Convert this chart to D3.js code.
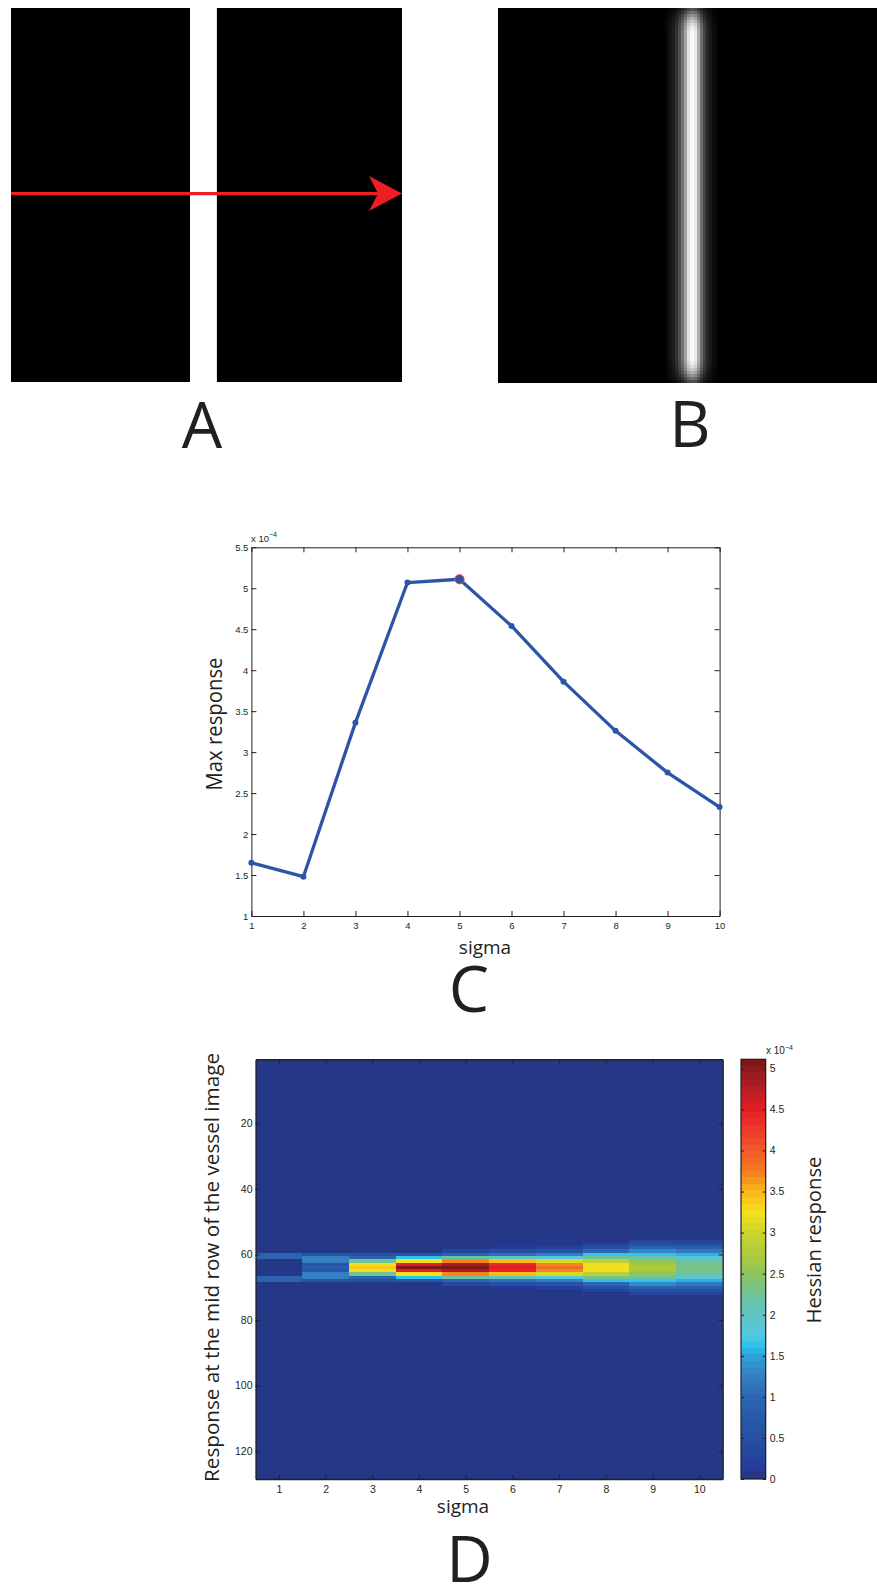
<!DOCTYPE html>
<html>
<head>
<meta charset="utf-8">
<script src="https://cdnjs.cloudflare.com/ajax/libs/d3/7.8.5/d3.min.js"></script>
<style>
body { margin: 0; background: #fff; }
svg { display: block; }
.tick text { font-family: "Liberation Sans", Arial, sans-serif; fill: #231f20; }
.tick line, .domain { stroke: #231f20; }
.lbl { font-family: "Open Sans", sans-serif; fill: #231f20; }
</style>
</head>
<body>
<div id="fig"></div>
<script>
// ---- panel A / B : the test image (128 x 128) ----
var imgSize = 128;
var vesselCols = [58.6, 67.4];          // white bar, image columns
var midRow = 63.5;                      // row the red arrow walks along
var glowCols = [55,56,57,58,59,60,61,62,63,64,65,66,67,68,69,70,71];
var glowLevels = [0.04,0.08,0.12,0.2,0.32,0.46,0.66,0.9,1.0,0.94,0.7,0.44,0.27,0.16,0.1,0.05,0.03];
var edgeFade = [0.32,0.45,0.58,0.7,0.8,0.88,0.94,0.98];   // first rows at top / bottom

// ---- panel C : max response per sigma (x 1e-4) ----
var sigmas = [1,2,3,4,5,6,7,8,9,10];
var maxResponse = [1.65,1.48,3.36,5.07,5.11,4.54,3.86,3.26,2.75,2.33];
var peakIndex = 4;
var cYTicks = [1,1.5,2,2.5,3,3.5,4,4.5,5,5.5];

// ---- panel D : response along the mid row, rows 56..72 (rest is 0) ----
var bandRows = [56,57,58,59,60,61,62,63,64,65,66,67,68,69,70,71,72];
var heatBand = [
  [0,0,0,0,0.95,0.95,0,0,0,0,0,0.95,0.95,0,0,0,0],
  [0,0,0,0,0.6,1.25,1.25,0.7,0.85,0.7,1.25,1.25,0.6,0,0,0,0],
  [0,0,0,0,0.5,0.9,2.25,3.2,3.36,3.2,2.25,0.9,0.5,0,0,0,0],
  [0,0,0,0,0.7,1.6,3.25,4.5,5.07,4.5,3.25,1.6,0.7,0,0,0,0],
  [0,0,0,0.35,0.95,2.2,3.7,4.8,5.11,4.8,3.7,2.2,0.95,0.35,0,0,0],
  [0,0,0.15,0.55,1.1,2.0,3.45,4.4,4.54,4.4,3.45,2.0,1.1,0.55,0.15,0,0],
  [0,0,0.2,0.6,1.2,1.8,3.1,3.75,3.86,3.75,3.1,1.8,1.2,0.6,0.2,0,0],
  [0,0.25,0.5,1.0,1.6,2.3,2.8,3.2,3.26,3.2,2.8,2.3,1.6,1.0,0.5,0.25,0],
  [0.25,0.5,0.9,1.3,1.6,2.2,2.5,2.7,2.75,2.7,2.5,2.2,1.6,1.3,0.9,0.5,0.25],
  [0.3,0.55,0.85,1.15,1.55,1.9,2.2,2.3,2.33,2.3,2.2,1.9,1.55,1.15,0.85,0.55,0.3]
];
var dYTicks = [20,40,60,80,100,120];
var cbTicks = [0,0.5,1,1.5,2,2.5,3,3.5,4,4.5,5];
var cbMax = 5.11;
var nLevels = 64;

// jet-like colour map as printed
var cmapVals = [0,0.1,0.25,0.5,0.75,1.0,1.25,1.5,1.6,1.75,2.0,2.25,2.5,2.75,3.0,3.25,3.5,3.75,4.0,4.25,4.5,4.75,5.0,5.11];
var cmapColors = ["#25367a","#24399a","#23449c","#2450a2","#265aa8","#2c68b2","#3480c2","#2aa2da","#27c0ef","#55c8e0",
  "#5fc5c3","#6ec39a","#8dc45a","#b1cb3a","#ccd52b","#f3e11c","#fbb51a","#f47b20","#f05a28","#ee3a2b",
  "#e41e25","#b31f24","#8e1a1c","#7a1315"];

var W = 877, H = 1584;
var ink = "#231f20";

var svg = d3.select("#fig").append("svg")
  .attr("width", W).attr("height", H)
  .style("background", "#fff");

// ================= A =================
var aX = d3.scaleLinear().domain([0, imgSize]).range([11, 402]);
var aY = d3.scaleLinear().domain([0, imgSize]).range([8, 382]);

var gA = svg.append("g");
gA.append("rect")
  .attr("x", aX(0)).attr("y", aY(0))
  .attr("width", aX(imgSize) - aX(0)).attr("height", aY(imgSize) - aY(0))
  .attr("fill", "#000");
gA.append("rect")
  .attr("x", aX(vesselCols[0])).attr("y", aY(0))
  .attr("width", aX(vesselCols[1]) - aX(vesselCols[0])).attr("height", aY(imgSize) - aY(0))
  .attr("fill", "#fff");
// red arrow along the mid row
var ay = aY(midRow), tipX = aX(imgSize);
gA.append("line")
  .attr("x1", aX(0)).attr("x2", tipX - 20)
  .attr("y1", ay).attr("y2", ay)
  .attr("stroke", "#ed1f24").attr("stroke-width", 3.3);
gA.append("path")
  .attr("d", "M" + tipX + "," + ay + "L" + (tipX - 33) + "," + (ay - 17.5) +
    "L" + (tipX - 24) + "," + ay + "L" + (tipX - 33) + "," + (ay + 17.5) + "Z")
  .attr("fill", "#ed1f24");
gA.append("text").attr("class", "lbl")
  .attr("x", 202).attr("y", 448)
  .attr("text-anchor", "middle").style("font-size", "64px")
  .text("A");

// ================= B =================
var bX = d3.scaleLinear().domain([0, imgSize]).range([498, 889]);
var bY = d3.scaleLinear().domain([0, imgSize]).range([8, 383]);
var gB = svg.append("g").attr("shape-rendering", "crispEdges");
gB.append("rect")
  .attr("x", bX(0)).attr("y", bY(0))
  .attr("width", bX(imgSize) - bX(0)).attr("height", bY(imgSize) - bY(0))
  .attr("fill", "#000");

// faded rows at the top and bottom, one long rect for the body of each column
var glowCells = [];
var nf = edgeFade.length;
glowCols.forEach(function (c, i) {
  edgeFade.forEach(function (f, r) {
    glowCells.push({ c: c, r0: r, r1: r + 1, v: glowLevels[i] * f });
    glowCells.push({ c: c, r0: imgSize - 1 - r, r1: imgSize - r, v: glowLevels[i] * f });
  });
  glowCells.push({ c: c, r0: nf, r1: imgSize - nf, v: glowLevels[i] });
});
gB.selectAll("rect.g").data(glowCells).enter().append("rect")
  .attr("class", "g")
  .attr("x", function (d) { return bX(d.c); })
  .attr("y", function (d) { return bY(d.r0); })
  .attr("width", bX(1) - bX(0))
  .attr("height", function (d) { return bY(d.r1) - bY(d.r0); })
  .attr("fill", function (d) { var g = Math.round(d.v * 250); return d3.rgb(g, g, g); });
svg.append("text").attr("class", "lbl")
  .attr("x", 690).attr("y", 447)
  .attr("text-anchor", "middle").style("font-size", "64px")
  .text("B");

// ================= C =================
var cX = d3.scaleLinear().domain([1, 10]).range([251.4, 719.6]);
var cY = d3.scaleLinear().domain([1, 5.5]).range([916, 547.3]);
var gC = svg.append("g");
var fmt = function (d) { return String(d); };

gC.append("g").attr("transform", "translate(0,916)")
  .call(d3.axisBottom(cX).tickValues(sigmas).tickSize(-5).tickSizeOuter(0).tickPadding(6).tickFormat(fmt))
  .selectAll("text").style("font-size", "9.5px");
gC.append("g").attr("transform", "translate(0,547.3)")
  .call(d3.axisTop(cX).tickValues(sigmas).tickSize(-5).tickSizeOuter(0).tickFormat(""));
gC.append("g").attr("transform", "translate(251.4,0)")
  .call(d3.axisLeft(cY).tickValues(cYTicks).tickSize(-5).tickSizeOuter(0).tickPadding(3).tickFormat(fmt))
  .selectAll("text").style("font-size", "9.5px");
gC.append("g").attr("transform", "translate(719.6,0)")
  .call(d3.axisRight(cY).tickValues(cYTicks).tickSize(-5).tickSizeOuter(0).tickFormat(""));

var line = d3.line()
  .x(function (d, i) { return cX(sigmas[i]); })
  .y(function (d) { return cY(d); });
gC.append("path").datum(maxResponse)
  .attr("d", line)
  .attr("fill", "none").attr("stroke", "#2c56a5")
  .attr("stroke-width", 3.3).attr("stroke-linejoin", "round");
gC.selectAll("circle.pt").data(maxResponse).enter().append("circle")
  .attr("class", "pt")
  .attr("cx", function (d, i) { return cX(sigmas[i]); })
  .attr("cy", function (d) { return cY(d); })
  .attr("r", 3).attr("fill", "#2c56a5");
gC.append("circle")
  .attr("cx", cX(sigmas[peakIndex])).attr("cy", cY(maxResponse[peakIndex]))
  .attr("r", 4.6).attr("fill", "#2c56a5")
  .attr("stroke", "#ef4136").attr("stroke-width", 1);

var cExp = gC.append("text").attr("x", 251).attr("y", 541.5)
  .style("font-family", "'Liberation Sans', Arial, sans-serif").style("font-size", "9.5px").attr("fill", ink);
cExp.append("tspan").text("x 10");
cExp.append("tspan").attr("dy", -4.5).style("font-size", "7px").text("\u22124");

gC.append("text").attr("class", "lbl")
  .attr("transform", "translate(222,724) rotate(-90)")
  .attr("text-anchor", "middle").style("font-size", "21px")
  .attr("textLength", 133).attr("lengthAdjust", "spacingAndGlyphs")
  .text("Max response");
gC.append("text").attr("class", "lbl")
  .attr("x", 485).attr("y", 954)
  .attr("text-anchor", "middle").style("font-size", "19px")
  .text("sigma");
gC.append("text").attr("class", "lbl")
  .attr("x", 469).attr("y", 1012)
  .attr("text-anchor", "middle").style("font-size", "64px")
  .text("C");

// ================= D =================
var dX = d3.scaleLinear().domain([0.5, 10.5]).range([255.5, 722.7]);
var dY = d3.scaleLinear().domain([0.5, 128.5]).range([1059.3, 1479]);
var cmap = d3.scaleLinear().domain(cmapVals).range(cmapColors).interpolate(d3.interpolateRgb);
var levels = d3.range(nLevels).map(function (i) { return cmap((i + 0.5) / nLevels * cbMax); });
function levelOf(v) { return Math.max(0, Math.min(nLevels - 1, Math.floor(v / cbMax * nLevels))); }

// zero everywhere except the band rows
var cells = [];
sigmas.forEach(function (s, ci) {
  bandRows.forEach(function (r, k) {
    if (heatBand[ci][k] > 0) cells.push({ s: s, r: r, v: heatBand[ci][k] });
  });
});
var gD = svg.append("g");
var gHeat = gD.append("g").attr("shape-rendering", "crispEdges");
gHeat.append("rect")
  .attr("x", dX(0.5)).attr("y", dY(0.5))
  .attr("width", dX(10.5) - dX(0.5)).attr("height", dY(128.5) - dY(0.5))
  .attr("fill", levels[0]);
gHeat.selectAll("rect.cell").data(cells).enter().append("rect")
  .attr("class", "cell")
  .attr("x", function (d) { return dX(d.s - 0.5); })
  .attr("y", function (d) { return dY(d.r - 0.5); })
  .attr("width", dX(1.5) - dX(0.5))
  .attr("height", dY(1.5) - dY(0.5))
  .attr("fill", function (d) { return levels[levelOf(d.v)]; });

gD.append("g").attr("transform", "translate(0,1479)")
  .call(d3.axisBottom(dX).tickValues(sigmas).tickSize(-4).tickSizeOuter(0).tickPadding(7).tickFormat(fmt))
  .selectAll("text").style("font-size", "10.5px");
gD.append("g").attr("transform", "translate(0,1059.3)")
  .call(d3.axisTop(dX).tickValues(sigmas).tickSize(-4).tickSizeOuter(0).tickFormat(""));
gD.append("g").attr("transform", "translate(255.5,0)")
  .call(d3.axisLeft(dY).tickValues(dYTicks).tickSize(-4).tickSizeOuter(0).tickPadding(3).tickFormat(fmt))
  .selectAll("text").style("font-size", "10.5px");
gD.append("g").attr("transform", "translate(722.7,0)")
  .call(d3.axisRight(dY).tickValues(dYTicks).tickSize(-4).tickSizeOuter(0).tickFormat(""));
gD.selectAll(".domain").attr("stroke-width", 1.3);

// colour bar
var cbX0 = 741, cbX1 = 765.7;
var cbY = d3.scaleLinear().domain([0, cbMax]).range([1479, 1059.3]);
gD.append("g").attr("shape-rendering", "crispEdges")
  .selectAll("rect.cb").data(levels).enter().append("rect")
  .attr("class", "cb")
  .attr("x", cbX0).attr("width", cbX1 - cbX0)
  .attr("y", function (d, i) { return cbY((i + 1) / nLevels * cbMax); })
  .attr("height", cbY(0) - cbY(cbMax / nLevels))
  .attr("fill", function (d) { return d; });
gD.append("rect")
  .attr("x", cbX0).attr("y", cbY(cbMax))
  .attr("width", cbX1 - cbX0).attr("height", cbY(0) - cbY(cbMax))
  .attr("fill", "none").attr("stroke", ink).attr("stroke-width", 1.2);
gD.append("g").attr("transform", "translate(" + cbX1 + ",0)")
  .call(d3.axisRight(cbY).tickValues(cbTicks).tickSize(-3).tickSizeOuter(0).tickPadding(4).tickFormat(fmt))
  .call(function (g) { g.select(".domain").remove(); })
  .selectAll("text").style("font-size", "10.5px");
gD.append("g").attr("transform", "translate(" + cbX0 + ",0)")
  .call(d3.axisLeft(cbY).tickValues(cbTicks).tickSize(-3).tickSizeOuter(0).tickFormat(""))
  .call(function (g) { g.select(".domain").remove(); });

var dExp = gD.append("text").attr("x", 766).attr("y", 1054)
  .style("font-family", "'Liberation Sans', Arial, sans-serif").style("font-size", "10px").attr("fill", ink);
dExp.append("tspan").text("x 10");
dExp.append("tspan").attr("dy", -4.5).style("font-size", "7px").text("\u22124");

gD.append("text").attr("class", "lbl")
  .attr("transform", "translate(821,1240) rotate(-90)")
  .attr("text-anchor", "middle").style("font-size", "20px")
  .attr("textLength", 167).attr("lengthAdjust", "spacingAndGlyphs")
  .text("Hessian response");
gD.append("text").attr("class", "lbl")
  .attr("transform", "translate(218.5,1267.5) rotate(-90)")
  .attr("text-anchor", "middle").style("font-size", "20px")
  .attr("textLength", 429).attr("lengthAdjust", "spacingAndGlyphs")
  .text("Response at the mid row of the vessel image");
gD.append("text").attr("class", "lbl")
  .attr("x", 463).attr("y", 1513)
  .attr("text-anchor", "middle").style("font-size", "19px")
  .text("sigma");
gD.append("text").attr("class", "lbl")
  .attr("x", 469.5).attr("y", 1582)
  .attr("text-anchor", "middle").style("font-size", "64px")
  .text("D");
</script>
</body>
</html>
